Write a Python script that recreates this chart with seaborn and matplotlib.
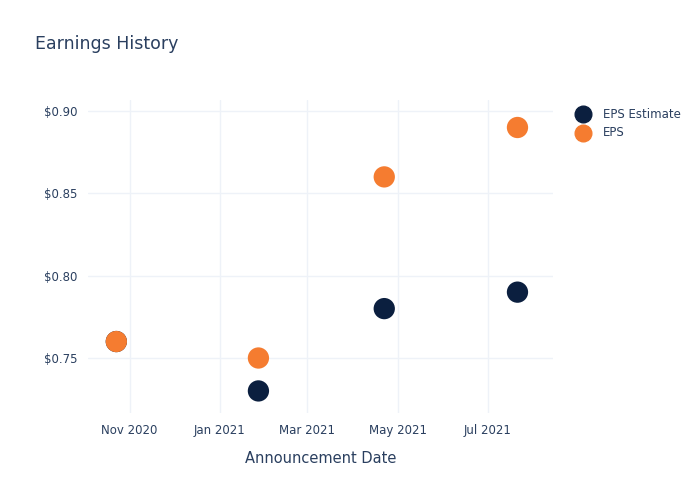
import pandas as pd
import matplotlib
matplotlib.use('Agg')
import matplotlib.pyplot as plt
import matplotlib.dates as mdates
import matplotlib.ticker as mticker
import seaborn as sns

# data
dates = ['2020-10-23', '2021-01-27', '2021-04-22', '2021-07-21']
eps_estimate = [0.76, 0.73, 0.78, 0.79]
eps_actual = [0.76, 0.75, 0.86, 0.89]
series_names = ['EPS Estimate', 'EPS']
series_colors = ['#0b1f3f', '#f57c30']

df = pd.DataFrame({
    'date': pd.to_datetime(dates * 2),
    'value': eps_estimate + eps_actual,
    'series': [series_names[0]] * 4 + [series_names[1]] * 4,
})

sns.set_style('white')
plt.rcParams['font.family'] = ['DejaVu Sans']
text_color = '#2a3f5f'

fig = plt.figure(figsize=(7, 5), dpi=100)
ax = fig.add_axes([0.126, 0.174, 0.664, 0.626])

sns.scatterplot(data=df, x='date', y='value', hue='series',
                palette=dict(zip(series_names, series_colors)),
                s=235, linewidth=0, alpha=1, ax=ax,
                legend=False, zorder=3)

ax.set_xlim(pd.Timestamp('2020-10-04'), pd.Timestamp('2021-08-14'))
ax.set_ylim(0.7166, 0.9067)
ax.xaxis.set_major_locator(mdates.MonthLocator(bymonth=[1, 3, 5, 7, 9, 11]))
ax.xaxis.set_major_formatter(mdates.DateFormatter('%b %Y'))
ax.yaxis.set_major_locator(mticker.FixedLocator([0.75, 0.80, 0.85, 0.90]))
ax.yaxis.set_major_formatter(mticker.FuncFormatter(lambda v, p: f'${v:.2f}'))

ax.grid(True, color='#eef2f8', linewidth=1, zorder=0)
for s in ax.spines.values():
    s.set_visible(False)
ax.tick_params(length=0, labelsize=8.5, colors=text_color, pad=8)
ax.set_xlabel('Announcement Date', fontsize=10.5, color=text_color, labelpad=10)
ax.set_ylabel('')

fig.text(0.05, 0.912, 'Earnings History', fontsize=12.5, color=text_color, va='center')

# legend
for i, (name, col) in enumerate(zip(series_names, series_colors)):
    y = 1 - (114 + 19 * i) / 500
    fig.lines.append(plt.Line2D([583 / 700], [y], marker='o', markersize=12,
                                color=col, linestyle='', transform=fig.transFigure))
    fig.text(603 / 700, y, name, fontsize=8.5, color=text_color, va='center')

plt.savefig('out.png', dpi=100)
